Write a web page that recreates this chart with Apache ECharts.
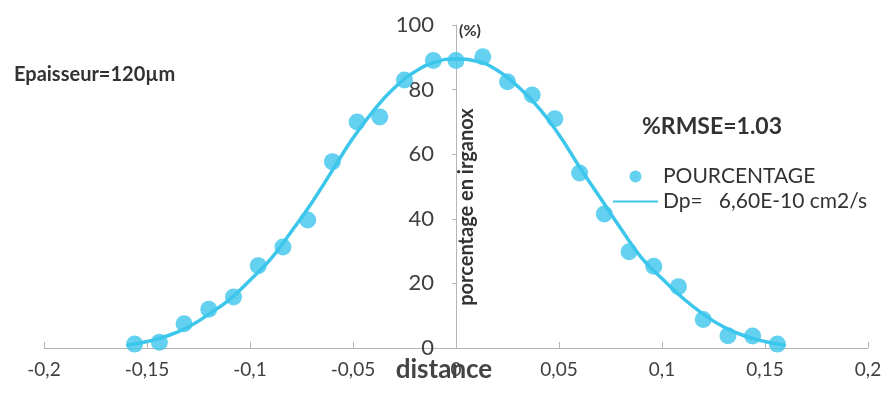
<!DOCTYPE html>
<html>
<head>
<meta charset="utf-8">
<script src="https://cdn.jsdelivr.net/npm/echarts@6/dist/echarts.min.js"></script>
<style>
  html, body { margin: 0; padding: 0; background: #fff; }
  #main { width: 889px; height: 396px; }
</style>
</head>
<body>
<div id="main"></div>
<script>
// points mesures (distance, pourcentage)
var pointX = [-0.156, -0.144, -0.132, -0.120, -0.108, -0.096, -0.084, -0.072, -0.060, -0.048, -0.037, -0.025, -0.011,
  0.000, 0.013, 0.025, 0.037, 0.048, 0.060, 0.072, 0.084, 0.096, 0.108, 0.120, 0.132, 0.144, 0.156];
var pointY = [1.2, 1.8, 7.5, 12, 15.8, 25.5, 31.3, 39.6, 57.7, 70, 71.5, 83, 89,
  89, 90.2, 82.4, 78.3, 71, 54.2, 41.5, 29.8, 25.3, 19, 8.8, 3.8, 3.7, 1.2];

// courbe modele
var curveX = [-0.16, -0.15, -0.14, -0.13, -0.12, -0.11, -0.10, -0.09, -0.08, -0.07, -0.06, -0.05, -0.04, -0.03, -0.02, -0.01,
  0.00, 0.01, 0.02, 0.03, 0.04, 0.05, 0.06, 0.07, 0.08, 0.09, 0.10, 0.11, 0.12, 0.13, 0.14, 0.15, 0.16];
var curveY = [0.8, 2, 3.8, 6.5, 10.5, 15, 21, 27.5, 36, 45, 55, 65, 73.5, 80.5, 85.5, 88.5,
  89.5, 88.8, 86, 81, 74.5, 66, 56, 46.5, 37, 28, 21.5, 15.5, 10.5, 6.5, 3.8, 2, 0.8];

var seriesNames = ['POURCENTAGE', 'Dp=   6,60E-10 cm2/s'];
var xMin = -0.2, xMax = 0.2, xStep = 0.05;
var yMin = 0, yMax = 100, yStep = 20;

var cyan = '#3cc6eb';
var font = 'Lato, "Liberation Sans", sans-serif';

var myChart = echarts.init(document.getElementById('main'));

var pts = [];
for (var i = 0; i < pointX.length; i++) {
  pts.push([pointX[i], pointY[i]]);
}
var crv = [];
for (var j = 0; j < curveX.length; j++) {
  crv.push([curveX[j], curveY[j]]);
}

var option = {
  backgroundColor: '#fff',
  animation: false,
  grid: { left: 44, right: 21, top: 25, bottom: 48, containLabel: false },
  legend: {
    orient: 'vertical',
    left: 607,
    top: 161,
    itemWidth: 45,
    itemHeight: 12,
    itemGap: 4,
    textStyle: { fontFamily: font, fontSize: 21, color: '#333' },
    data: [
      { name: seriesNames[0], icon: 'circle' },
      { name: seriesNames[1], itemStyle: { opacity: 0 } }
    ]
  },
  xAxis: {
    type: 'value',
    min: xMin, max: xMax, interval: xStep,
    splitLine: { show: false },
    axisLine: { onZero: false, lineStyle: { color: '#b5b5b5', width: 1 } },
    axisTick: { show: true, inside: true, length: 6, lineStyle: { color: '#b5b5b5' } },
    axisLabel: {
      margin: 12,
      fontFamily: font, fontSize: 19, color: '#404040',
      formatter: function (v) { return String(+v.toFixed(2)).replace('.', ','); }
    }
  },
  yAxis: {
    type: 'value',
    min: yMin, max: yMax, interval: yStep,
    offset: -412,
    splitLine: { show: false },
    axisLine: { show: true, onZero: false, lineStyle: { color: '#b5b5b5', width: 1 } },
    axisTick: { show: true, length: 4, lineStyle: { color: '#b5b5b5' } },
    axisLabel: { margin: 22, fontFamily: font, fontSize: 22, color: '#404040' }
  },
  graphic: [
    { type: 'text', left: 14, top: 65,
      style: { text: 'Epaisseur=120µm', font: 'bold 20px ' + font, fill: '#333' } },
    { type: 'text', left: 642, top: 115,
      style: { text: '%RMSE=1.03', font: 'bold 23px ' + font, fill: '#333' } },
    { type: 'text', left: 459, top: 23,
      style: { text: '(%)', font: 'bold 16px ' + font, fill: '#333' } },
    { type: 'text', x: 467, y: 207, rotation: Math.PI / 2,
      style: { text: 'porcentage en irganox', font: 'bold 20px ' + font, fill: '#333',
        align: 'center', verticalAlign: 'middle' } },
    { type: 'text', x: 444, y: 370,
      style: { text: 'distance', font: 'bold 26px ' + font, fill: '#444',
        align: 'center', verticalAlign: 'middle' } }
  ],
  series: [
    {
      name: seriesNames[0],
      type: 'scatter',
      symbol: 'circle',
      symbolSize: 17,
      itemStyle: { color: cyan },
      data: pts,
      z: 3
    },
    {
      name: seriesNames[1],
      type: 'line',
      smooth: true,
      symbol: 'none',
      lineStyle: { color: cyan, width: 3.5 },
      itemStyle: { color: cyan },
      data: crv,
      z: 2
    }
  ]
};

myChart.setOption(option);
</script>
</body>
</html>
